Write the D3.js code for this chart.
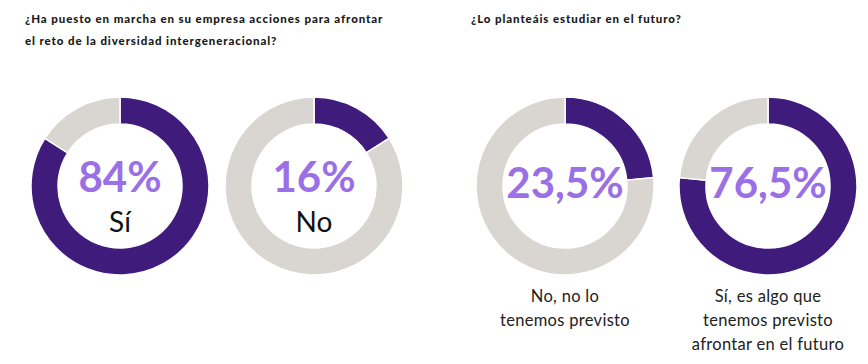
<!DOCTYPE html>
<html>
<head>
<meta charset="utf-8">
<script src="https://cdn.jsdelivr.net/npm/d3@7"></script>
<style>
  body { margin: 0; background: #fff; }
  svg { display: block; font-family: Lato, "Noto Sans", sans-serif; }
  .title { font-size: 11.5px; font-weight: 900; fill: #1a1a1a; letter-spacing: 0.9px; }
  .pct { font-size: 42px; font-weight: 700; fill: #9b6fe6; }
  .inner { font-size: 28px; fill: #111; }
  .below { font-size: 16.5px; fill: #222; letter-spacing: 0.3px; }
</style>
</head>
<body>
<svg id="chart" width="868" height="364"></svg>
<script>
(function () {
    const COLORS = { yes: "#3f1c7c", rest: "#d9d5d1" };

    // share answered, one donut each
    const shares = [84, 16, 23.5, 76.5];
    const pctLabels = ["84%", "16%", "23,5%", "76,5%"];
    const innerLabels = [["Sí"], ["No"], [], []];
    const belowLabels = [[], [], ["No, no lo", "tenemos previsto"], ["Sí, es algo que", "tenemos previsto", "afrontar en el futuro"]];
    const titles = [
        { x: 25, lines: ["¿Ha puesto en marcha en su empresa acciones para afrontar", "el reto de la diversidad intergeneracional?"] },
        { x: 471, lines: ["¿Lo planteáis estudiar en el futuro?"] }
    ];

    const svg = d3.select("#chart");
    const centersX = [120, 314, 565, 768];
    const cy = 186;
    const outerR = 89, innerR = 62;

    titles.forEach(t => {
        svg.append("text")
            .attr("class", "title")
            .selectAll("tspan")
            .data(t.lines)
            .enter().append("tspan")
            .attr("x", t.x)
            .attr("y", (d, i) => 23 + i * 22)
            .text(d => d);
    });

    const pie = d3.pie().sort(null).value(d => d);
    const arc = d3.arc().innerRadius(innerR).outerRadius(outerR);

    shares.forEach((v, i) => {
        const g = svg.append("g").attr("transform", `translate(${centersX[i]},${cy})`);

        g.selectAll("path")
            .data(pie([v, 100 - v]))
            .enter().append("path")
            .attr("d", arc)
            .attr("fill", (d, j) => j === 0 ? COLORS.yes : COLORS.rest)
            .attr("stroke", "#fff")
            .attr("stroke-width", 1.5);

        const hasInner = innerLabels[i].length > 0;
        g.append("text")
            .attr("class", "pct")
            .attr("text-anchor", "middle")
            .attr("y", hasInner ? 6 : 12)
            .text(pctLabels[i]);

        g.selectAll("text.inner")
            .data(innerLabels[i])
            .enter().append("text")
            .attr("class", "inner")
            .attr("text-anchor", "middle")
            .attr("y", 46)
            .text(d => d);

        g.selectAll("text.below")
            .data(belowLabels[i])
            .enter().append("text")
            .attr("class", "below")
            .attr("text-anchor", "middle")
            .attr("y", (d, j) => 116 + j * 24)
            .text(d => d);
    });
})();
</script>
</body>
</html>
